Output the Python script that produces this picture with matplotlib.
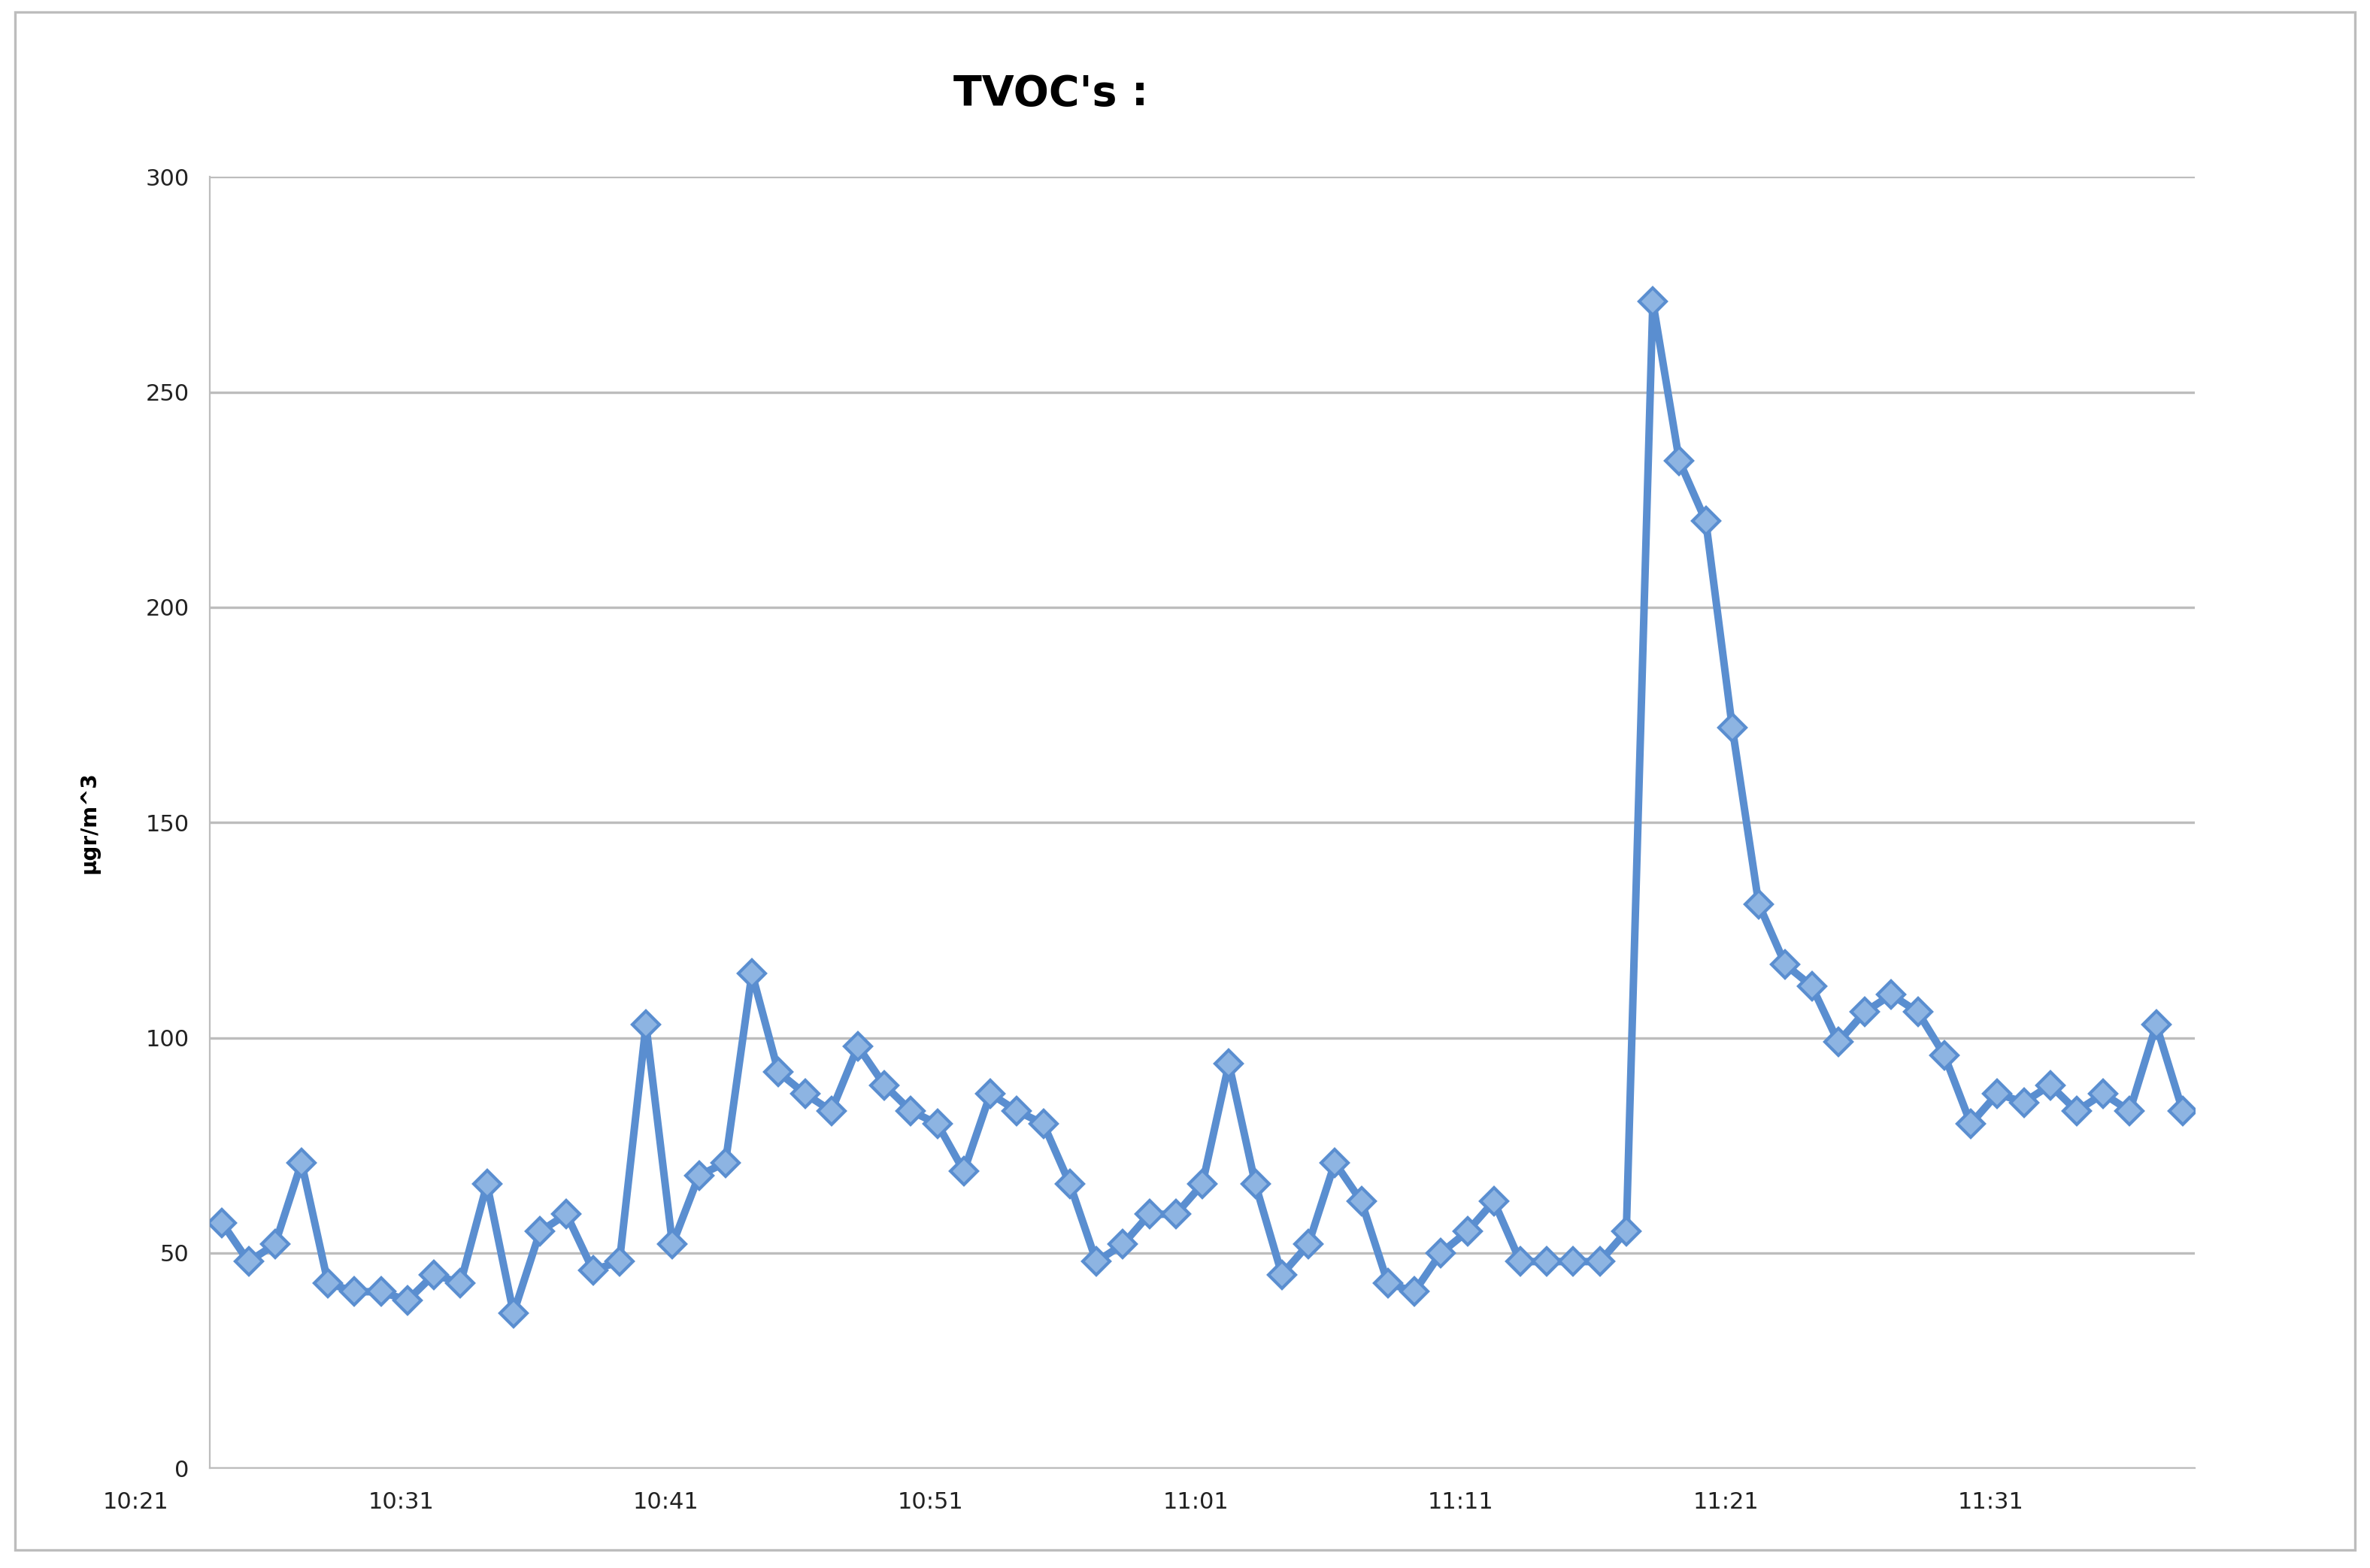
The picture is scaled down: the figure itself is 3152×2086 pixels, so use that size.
import matplotlib
matplotlib.use("Agg")
import matplotlib.pyplot as plt
from matplotlib.patches import Rectangle

values = [57,48,52,71,43,41,41,39,45,43,66,36,55,59,46,48,103,52,68,71,
          115,92,87,83,98,89,83,80,69,87,83,80,66,48,52,59,59,66,94,66,
          45,52,71,62,43,41,50,55,62,48,48,48,48,55,271,234,220,172,131,117,
          112,99,106,110,106,96,80,87,85,89,83,87,83,103,83]
start_minute = 3.25  # minutes after 10:21
tick_minutes = [0, 10, 20, 30, 40, 50, 60, 70]
tick_labels = ["10:21","10:31","10:41","10:51","11:01","11:11","11:21","11:31"]
yticks = [0, 50, 100, 150, 200, 250, 300]

W, H = 1568, 1037
fig = plt.figure(figsize=(15.76, 10.43), dpi=200)
fig.patches.append(Rectangle((10/W, 1-1025/H), 1548/W, 1017/H, transform=fig.transFigure,
                             fill=False, edgecolor="#bdbdbd", linewidth=1.2))
ax = fig.add_axes([139/W, 1-971/H, (1452-139)/W, (971-117)/H])
x = [start_minute + i for i in range(len(values))]
ax.plot(x, values, color="#5A8ED0", linewidth=3.6, marker="D", markersize=9,
        markerfacecolor="#8DB4E2", markeredgecolor="#5A8ED0", markeredgewidth=1.5, zorder=3)
ax.set_xlim(2.8, 77.7)
ax.set_ylim(0, 300)
ax.set_yticks(yticks)
ax.set_yticklabels([str(v) for v in yticks], fontsize=11, color="#222222")
ax.yaxis.grid(True, color="#bdbdbd", linewidth=1.2)
ax.set_axisbelow(True)
for s in ["top", "right"]:
    ax.spines[s].set_visible(False)
ax.spines["left"].set_color("#bdbdbd")
ax.spines["bottom"].set_color("#bdbdbd")
ax.tick_params(axis="y", length=0, pad=10)
ax.set_xticks([])
tr = ax.get_xaxis_transform()
for m, lab in zip(tick_minutes, tick_labels):
    ax.text(m, -0.018, lab, transform=tr, ha="center", va="top", fontsize=11,
            color="#222222", clip_on=False)
ax.set_ylabel("µgr/m^3", fontsize=10, fontweight="bold", labelpad=22)
fig.text(695/W, 1-62/H, "TVOC's :", ha="center", va="center", fontsize=20, fontweight="bold")
fig.savefig("out.png", dpi=200)
